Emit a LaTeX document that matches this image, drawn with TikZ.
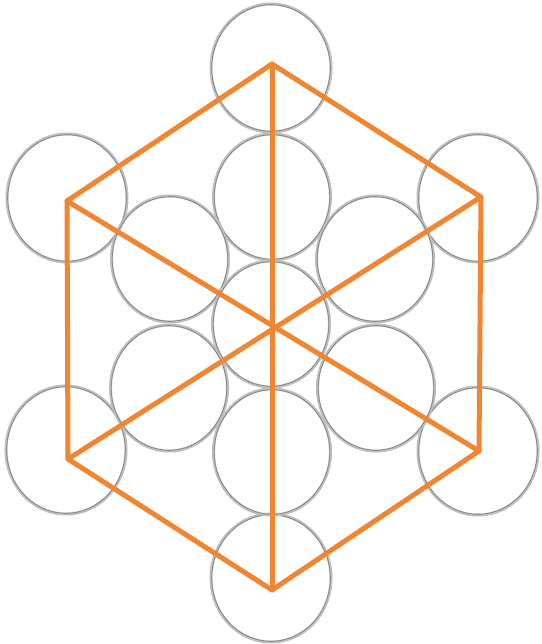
\documentclass[tikz,border=0pt]{standalone}
\definecolor{hexorange}{RGB}{240,133,50}
\definecolor{ringgray}{RGB}{190,190,190}
\tikzset{
  ring/.style={draw=ringgray, line width=3pt},
  ringedge/.style={draw=black!55, line width=0.5pt},
  hexline/.style={draw=hexorange, line width=5pt, line cap=round, line join=round}
}
\begin{document}
\begin{tikzpicture}[x=1pt,y=-1pt]
\useasboundingbox[fill=white] (0,0) rectangle (541,644);
% outer circles
\foreach \cx/\cy in {271/68, 67/198, 478/198, 66/450, 478/451, 271/578}{
  \draw[ring] (\cx,\cy) ellipse [x radius=60, y radius=64];
  \draw[ringedge] (\cx,\cy) ellipse [x radius=59.3, y radius=63.3];
}
% inner circles
\foreach \cx/\cy in {272/197, 170/259, 375/259, 271/324, 169/388, 376/388, 272/452}{
  \draw[ring] (\cx,\cy) ellipse [x radius=58.5, y radius=63];
  \draw[ringedge] (\cx,\cy) ellipse [x radius=57.8, y radius=62.3];
}
% hexagon vertices
\coordinate (T) at (272,64);
\coordinate (UL) at (67,201);
\coordinate (UR) at (481,197);
\coordinate (LR) at (479,451);
\coordinate (LL) at (68,459);
\coordinate (B) at (272,590);
\draw[hexline] (T) -- (UR) -- (LR) -- (B) -- (LL) -- (UL) -- cycle;
\draw[hexline] (T) -- (B);
\draw[hexline] (UL) -- (LR);
\draw[hexline] (UR) -- (LL);
\end{tikzpicture}
\end{document}
